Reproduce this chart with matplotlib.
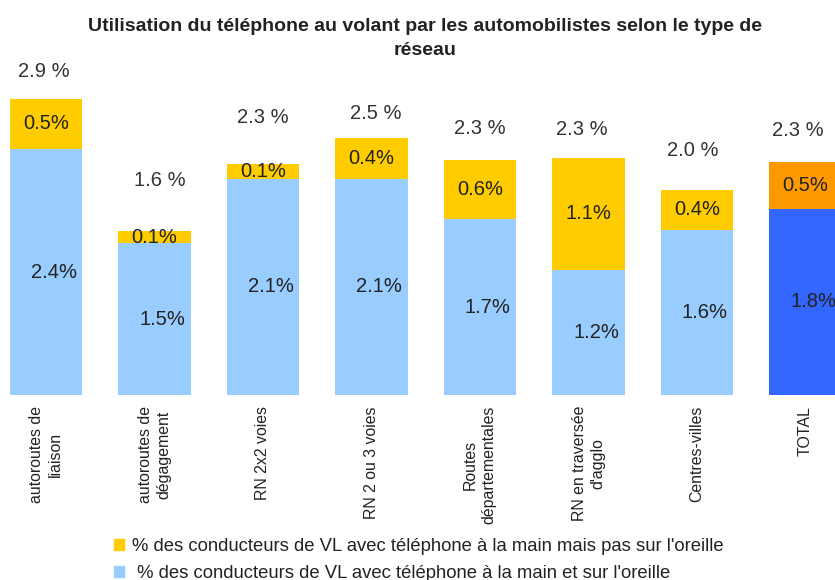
import matplotlib
matplotlib.use("Agg")
import matplotlib.pyplot as plt
from matplotlib.patches import Patch

plt.rcParams['font.family'] = ['Liberation Sans', 'DejaVu Sans']

# données (en %)
categories = ["autoroutes de\nliaison", "autoroutes de\ndégagement", "RN 2x2 voies",
              "RN 2 ou 3 voies", "Routes\ndépartementales", "RN en traversée\nd'agglo",
              "Centres-villes", "TOTAL"]
main_oreille = [2.43, 1.50, 2.14, 2.14, 1.74, 1.24, 1.63, 1.84]
main_pas_oreille = [0.50, 0.12, 0.14, 0.40, 0.58, 1.10, 0.40, 0.46]
legend_labels = ["% des conducteurs de VL avec téléphone à la main mais pas sur l'oreille",
                 " % des conducteurs de VL avec téléphone à la main et sur l'oreille"]

# couleurs : barres normales puis barre TOTAL
c_bas = ['#99CCFF'] * 7 + ['#3366FF']
c_haut = ['#FFCC00'] * 7 + ['#FF9900']

# décalage (pixels) des étiquettes de total, placées à la main dans l'original
tot_dx = [-2, 5, 0, 4, 0, -7, -4, -8]
tot_dy = [27, 51, 47, 25, 32, 29, 39, 32]

W, H = 835, 580
fig = plt.figure(figsize=(W / 100, H / 100), dpi=100)
ax = fig.add_axes([0, 185 / H, 1, 354 / H])

x = list(range(len(categories)))
width = 0.67
ax.bar(x, main_oreille, width, color=c_bas)
ax.bar(x, main_pas_oreille, width, bottom=main_oreille, color=c_haut)

txt = '#222222'
for i in x:
    b, h = main_oreille[i], main_pas_oreille[i]
    ax.text(i + 0.07, b / 2, f"{b:.1f}%", ha='center', va='center', fontsize=14.5, color=txt)
    ax.text(i, b + h / 2, f"{h:.1f}%", ha='center', va='center', fontsize=14.5, color=txt)
    ax.annotate(f"{b + h:.1f} %", (i, b + h), xytext=(tot_dx[i], tot_dy[i]),
                textcoords='offset pixels', ha='center', va='center',
                fontsize=14.5, color='#333333')

ax.set_xlim(-0.424, 7.272)
ax.set_ylim(0, 3.5)
ax.set_yticks([])
ax.set_xticks(x)
ax.set_xticklabels(categories, rotation=90, ha='center', va='top',
                   multialignment='center', fontsize=11.4, color=txt, linespacing=1.3)
ax.tick_params(axis='x', length=0, pad=8)
for s in ax.spines.values():
    s.set_visible(False)

fig.text(425 / W, 1 - 38.5 / H, "Utilisation du téléphone au volant par les automobilistes selon le type de\nréseau",
         ha='center', va='center', fontsize=14, fontweight='bold', color='#222222',
         linespacing=1.5)

handles = [Patch(color='#FFCC00'), Patch(color='#99CCFF')]
fig.legend(handles, legend_labels, loc='upper left', bbox_to_anchor=(114 / W, 1 - 538 / H),
           frameon=False, fontsize=13.3, handlelength=0.54, handleheight=0.54,
           handletextpad=0.43, labelspacing=0.52, borderpad=0, borderaxespad=0,
           labelcolor='#222222')

fig.savefig("out.png", dpi=100)
